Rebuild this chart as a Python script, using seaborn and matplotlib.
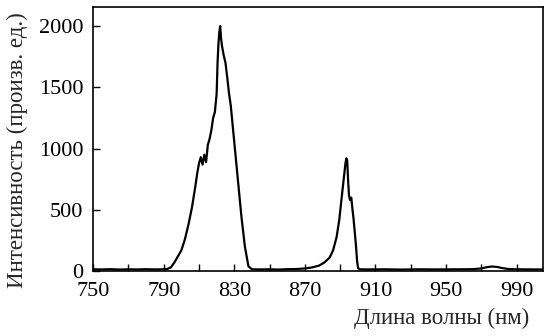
import numpy as np
import pandas as pd
import seaborn as sns
from matplotlib import pyplot as plt

wavelength = [750, 755, 760, 765, 770, 775, 780, 785, 789, 792, 794, 796, 798, 800,
              802, 804, 806, 808, 809, 810, 811, 812, 813, 814, 815, 816, 817, 818,
              819, 820, 820.5, 821, 821.5, 822, 822.5, 823, 823.5, 824, 825, 826,
              827, 828, 830, 832, 834, 836, 838, 840, 845, 850, 855, 860, 865, 870,
              874, 878, 881, 884, 886, 888, 889.5, 891, 892, 893, 893.5, 894, 894.5,
              895, 895.6, 896.3, 897, 897.5, 898.2, 899, 899.6, 900.2, 901, 905, 915,
              925, 935, 945, 955, 965, 970, 973, 976, 979, 982, 985, 990, 1000, 1005]
intensity = [15, 14, 16, 13, 15, 14, 16, 14, 15, 18, 30, 70, 120, 170,
             260, 380, 520, 700, 800, 880, 930, 870, 950, 890, 1030, 1080, 1150, 1250,
             1300, 1450, 1700, 1850, 1950, 2000, 1900, 1840, 1800, 1760, 1700, 1580,
             1450, 1350, 1050, 750, 450, 200, 40, 15, 14, 15, 13, 16, 17, 22,
             30, 45, 70, 110, 170, 280, 420, 620, 750, 880, 920, 900, 740,
             620, 580, 600, 500, 440, 330, 200, 80, 25, 15, 14, 15,
             13, 15, 14, 15, 16, 22, 32, 38, 34, 25, 18, 15, 14, 14]

df = pd.DataFrame({"wl": wavelength, "I": intensity})

sns.set_style("ticks")
plt.rcParams["font.family"] = ["Liberation Serif", "DejaVu Serif"]

fig = plt.figure(figsize=(5.48, 3.36), dpi=100)
ax = fig.add_axes([0.170, 0.193, 0.821, 0.786])
sns.lineplot(data=df, x="wl", y="I", ax=ax, color="black", linewidth=1.6)

ax.set_xlim(750, 1005)
ax.set_ylim(0, 2155)
xt = np.arange(750, 1001, 20)
ax.set_xticks(xt)
ax.set_xticklabels([str(v) if (v - 750) % 40 == 0 else "" for v in xt])
ax.set_yticks([0, 500, 1000, 1500, 2000])
ax.tick_params(direction="in", length=5, width=1, labelsize=16, colors="black")
ax.tick_params(axis="x", pad=8)
ax.tick_params(axis="y", pad=7)
for s in ax.spines.values():
    s.set_linewidth(1.2)
    s.set_color("black")

ax.set_xlabel("Длина волны (нм)", fontsize=16.5)
ax.set_ylabel("Интенсивность (произв. ед.)", fontsize=16.5)
ax.xaxis.set_label_coords(0.774, -0.180)
ax.yaxis.set_label_coords(-0.169, 0.458)
ax.xaxis.label.set_va("center")
ax.yaxis.label.set_va("center")

fig.savefig("out.png", dpi=100)
